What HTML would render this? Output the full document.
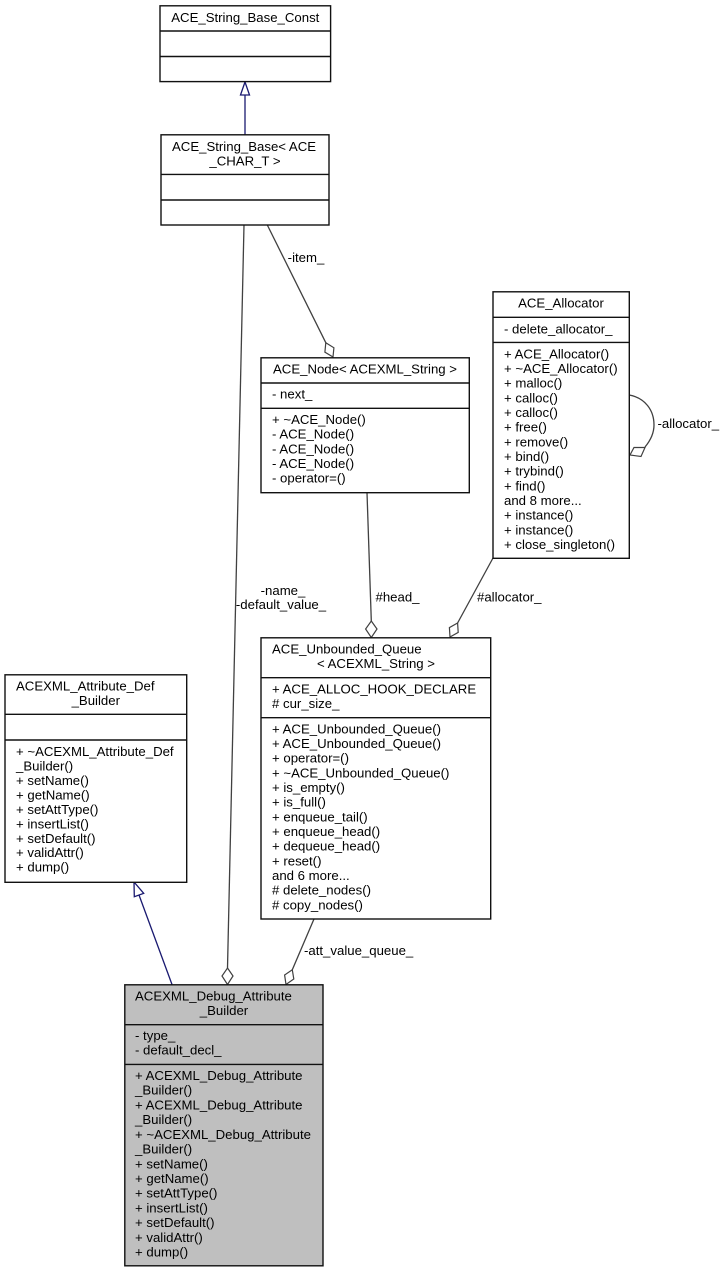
<!DOCTYPE html>
<html><head><meta charset="utf-8"><style>
html,body{margin:0;padding:0;background:#fff;width:724px;height:1272px;overflow:hidden}
svg{display:block}
text{font-family:"Liberation Sans",Arial,sans-serif;font-size:13.2px;fill:#000}
.m{text-anchor:middle}
.b{fill:#fff;stroke:#111;stroke-width:1.4}
.d{stroke:#111;stroke-width:1.4;fill:none}
.e{stroke:#404040;stroke-width:1.3;fill:none}
.dm{stroke:#404040;stroke-width:1.2;fill:#fff}
.n{stroke:#191970;stroke-width:1.3;fill:none}
.t{stroke:#191970;stroke-width:1.3;fill:#fff}
</style></head><body>
<svg width="724" height="1272" viewBox="0 0 724 1272" xmlns="http://www.w3.org/2000/svg">
<!-- edges -->
<path class="n" d="M245 134.5V95"/><polygon class="t" points="245,82 240.5,95 249.5,95"/>
<path class="n" d="M172 984.5L139 895"/><polygon class="t" points="134,882 143.7,893.3 134.3,896.7"/>
<path class="e" d="M244 225L227.5 968"/><polygon class="dm" points="227.5,968 233,976 227.5,984.5 222,976"/>
<path class="e" d="M267.3 225L325.8 342.7"/><polygon class="dm" points="325.8,342.7 333.9,347.8 333,357 324.9,352.2"/>
<path class="e" d="M367 492.5L371.3 621"/><polygon class="dm" points="371.3,621 377,629 371.3,637.5 365.6,629"/>
<path class="e" d="M493 558L457.6 623"/><polygon class="dm" points="457.6,623 458.2,632.4 450,637 449.4,627.6"/>
<path class="e" d="M314 919L292.3 969.8"/><polygon class="dm" points="292.3,969.8 293.8,979 286,984.5 284.6,975"/>
<path class="e" d="M629.3 395C645 398 654 410 654 425C654 434 650 441 645 447"/><polygon class="dm" points="645,447.5 634,447.5 630,455 641,456.5"/>
<!-- ACE_String_Base_Const -->
<rect class="b" x="160" y="5.8" width="170.6" height="75.8"/>
<path class="d" d="M160 31H330.6M160 56.5H330.6"/>
<text class="m" x="245.3" y="22">ACE_String_Base_Const</text>
<!-- ACE_String_Base -->
<rect class="b" x="161" y="134.8" width="168" height="90.2"/>
<path class="d" d="M161 174.4H329M161 200H329"/>
<text x="172" y="151">ACE_String_Base&lt; ACE</text>
<text class="m" x="245" y="165.5">_CHAR_T &gt;</text>
<!-- ACE_Node -->
<rect class="b" x="261" y="357.8" width="208.3" height="134.9"/>
<path class="d" d="M261 383H469.3M261 408.3H469.3"/>
<text class="m" x="365" y="373.3">ACE_Node&lt; ACEXML_String &gt;</text>
<text x="272" y="398.3">- next_</text>
<text x="272" y="424">+ ~ACE_Node()</text>
<text x="272" y="438.7">- ACE_Node()</text>
<text x="272" y="453.4">- ACE_Node()</text>
<text x="272" y="468">- ACE_Node()</text>
<text x="272" y="482.7">- operator=()</text>
<!-- ACE_Allocator -->
<rect class="b" x="493" y="291.8" width="136.3" height="266.5"/>
<path class="d" d="M493 317.3H629.3M493 342.4H629.3"/>
<text class="m" x="561" y="307.7">ACE_Allocator</text>
<text x="504" y="333.3">- delete_allocator_</text>
<text x="504" y="358.3">+ ACE_Allocator()</text>
<text x="504" y="373">+ ~ACE_Allocator()</text>
<text x="504" y="387.6">+ malloc()</text>
<text x="504" y="402.3">+ calloc()</text>
<text x="504" y="417">+ calloc()</text>
<text x="504" y="431.6">+ free()</text>
<text x="504" y="446.3">+ remove()</text>
<text x="504" y="461">+ bind()</text>
<text x="504" y="475.7">+ trybind()</text>
<text x="504" y="490.3">+ find()</text>
<text x="504" y="505">and 8 more...</text>
<text x="504" y="519.7">+ instance()</text>
<text x="504" y="534.3">+ instance()</text>
<text x="504" y="549">+ close_singleton()</text>
<!-- ACE_Unbounded_Queue -->
<rect class="b" x="261" y="637.8" width="229.7" height="281.2"/>
<path class="d" d="M261 677.7H490.7M261 717.7H490.7"/>
<text x="272" y="653.3">ACE_Unbounded_Queue</text>
<text class="m" x="376" y="668">&lt; ACEXML_String &gt;</text>
<text x="272" y="693.3">+ ACE_ALLOC_HOOK_DECLARE</text>
<text x="272" y="708"># cur_size_</text>
<text x="272" y="733.3">+ ACE_Unbounded_Queue()</text>
<text x="272" y="748">+ ACE_Unbounded_Queue()</text>
<text x="272" y="762.6">+ operator=()</text>
<text x="272" y="777.3">+ ~ACE_Unbounded_Queue()</text>
<text x="272" y="792">+ is_empty()</text>
<text x="272" y="806.6">+ is_full()</text>
<text x="272" y="821.3">+ enqueue_tail()</text>
<text x="272" y="836">+ enqueue_head()</text>
<text x="272" y="850.6">+ dequeue_head()</text>
<text x="272" y="865.3">+ reset()</text>
<text x="272" y="880">and 6 more...</text>
<text x="272" y="894.6"># delete_nodes()</text>
<text x="272" y="909.3"># copy_nodes()</text>
<!-- ACEXML_Attribute_Def_Builder -->
<rect class="b" x="5" y="674.8" width="181.7" height="207.5"/>
<path class="d" d="M5 714.3H186.7M5 740H186.7"/>
<text x="16" y="690.7">ACEXML_Attribute_Def</text>
<text class="m" x="95.8" y="705">_Builder</text>
<text x="16" y="756">+ ~ACEXML_Attribute_Def</text>
<text x="16" y="770.5">_Builder()</text>
<text x="16" y="785">+ setName()</text>
<text x="16" y="799.4">+ getName()</text>
<text x="16" y="813.8">+ setAttType()</text>
<text x="16" y="828.3">+ insertList()</text>
<text x="16" y="842.8">+ setDefault()</text>
<text x="16" y="857.2">+ validAttr()</text>
<text x="16" y="871.7">+ dump()</text>
<!-- ACEXML_Debug_Attribute_Builder -->
<rect class="b" style="fill:#bfbfbf" x="124.8" y="984.8" width="198.2" height="281"/>
<path class="d" d="M124.8 1024.7H323M124.8 1064.4H323"/>
<text x="135" y="1000.7">ACEXML_Debug_Attribute</text>
<text class="m" x="224" y="1015.2">_Builder</text>
<text x="135" y="1040">- type_</text>
<text x="135" y="1054.4">- default_decl_</text>
<text x="135" y="1080">+ ACEXML_Debug_Attribute</text>
<text x="135" y="1094.7">_Builder()</text>
<text x="135" y="1109.4">+ ACEXML_Debug_Attribute</text>
<text x="135" y="1124.2">_Builder()</text>
<text x="135" y="1138.9">+ ~ACEXML_Debug_Attribute</text>
<text x="135" y="1153.6">_Builder()</text>
<text x="135" y="1168.3">+ setName()</text>
<text x="135" y="1183">+ getName()</text>
<text x="135" y="1197.7">+ setAttType()</text>
<text x="135" y="1212.5">+ insertList()</text>
<text x="135" y="1227.2">+ setDefault()</text>
<text x="135" y="1242">+ validAttr()</text>
<text x="135" y="1256.7">+ dump()</text>
<!-- edge labels -->
<text class="m" x="306" y="262">-item_</text>
<text class="m" x="283" y="595">-name_</text>
<text class="m" x="281" y="609">-default_value_</text>
<text x="375.5" y="601.7">#head_</text>
<text x="477" y="601.7">#allocator_</text>
<text x="304" y="955">-att_value_queue_</text>
<text x="657.5" y="428">-allocator_</text>
</svg>
</body></html>
